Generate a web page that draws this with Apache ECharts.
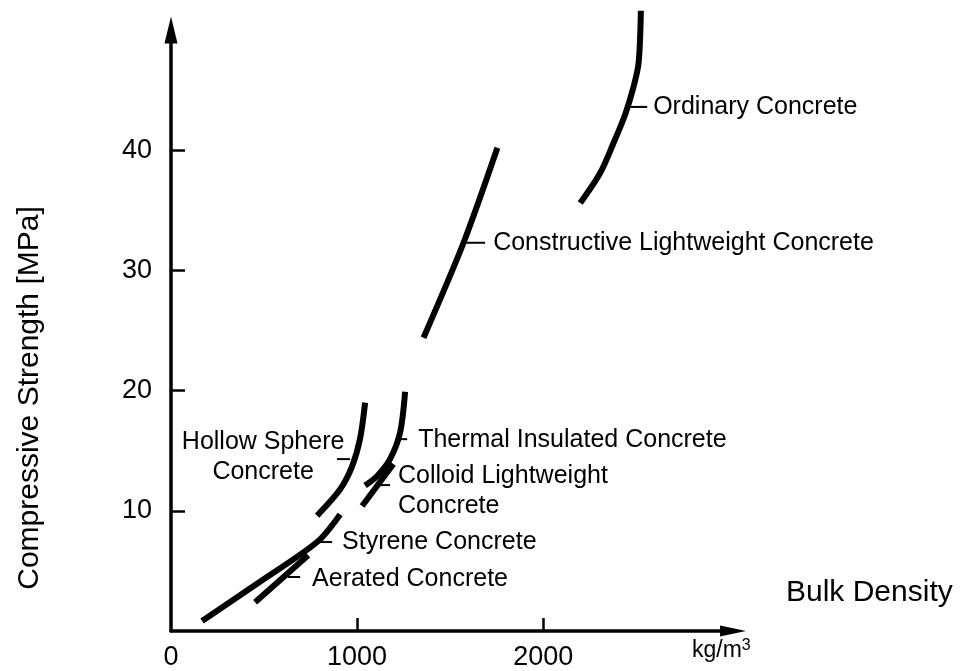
<!DOCTYPE html>
<html>
<head>
<meta charset="utf-8">
<script src="https://cdn.jsdelivr.net/npm/echarts@6/dist/echarts.min.js"></script>
<style>html,body{margin:0;padding:0;background:#fff;}#c{width:964px;height:671px;}</style>
</head>
<body>
<div id="c"></div>
<script>
// ---- data (bulk density kg/m3, compressive strength MPa) ----
const ordinaryDensity = [2199, 2306, 2378, 2441, 2486, 2513, 2525];
const ordinaryStrength = [35.6, 38.1, 40.6, 43.0, 45.3, 47.3, 51.6];
const constructiveDensity = [1357, 1572, 1754];
const constructiveStrength = [24.4, 32.3, 40.2];
const hollowDensity = [785, 909, 973, 1016, 1043];
const hollowStrength = [9.6, 11.8, 13.7, 16.0, 19.0];
const thermalDensity = [1043, 1108, 1177, 1231, 1258];
const thermalStrength = [12.1, 12.9, 14.3, 16.5, 19.9];
const colloidDensity = [1027, 1195];
const colloidStrength = [10.4, 13.9];
const styreneDensity = [167, 478, 785, 909];
const styreneStrength = [0.83, 4.1, 7.4, 9.7];
const aeratedDensity = [452, 737];
const aeratedStrength = [2.4, 6.3];

const xTickLabels = [0, 1000, 2000];
const xTicks = [1000, 2000];
const yTickLabels = [10, 20, 30, 40];

const seriesNames = ['Ordinary Concrete', 'Constructive Lightweight Concrete', 'Hollow Sphere Concrete',
  'Thermal Insulated Concrete', 'Colloid Lightweight Concrete', 'Styrene Concrete', 'Aerated Concrete'];
const seriesX = [ordinaryDensity, constructiveDensity, hollowDensity, thermalDensity, colloidDensity, styreneDensity, aeratedDensity];
const seriesY = [ordinaryStrength, constructiveStrength, hollowStrength, thermalStrength, colloidStrength, styreneStrength, aeratedStrength];

// annotation layout (leader line from x1 to x2 at y, text anchor)
const annotations = [
  { text: 'Ordinary Concrete', x1: 2468, x2: 2559, y: 43.6, tx: 2591, ty: 43.6, align: 'left' },
  { text: 'Constructive Lightweight Concrete', x1: 1570, x2: 1688, y: 32.3, tx: 1731, ty: 32.3, align: 'left' },
  { text: 'Hollow Sphere\nConcrete', x1: 892, x2: 962, y: 14.3, tx: 495, ty: 14.45, align: 'center' },
  { text: 'Thermal Insulated Concrete', x1: 1204, x2: 1269, y: 15.96, tx: 1328, ty: 15.85, align: 'left' },
  { text: 'Colloid Lightweight\nConcrete', x1: 1124, x2: 1177, y: 12.14, tx: 1220, ty: 11.64, align: 'left' },
  { text: 'Styrene Concrete', x1: 785, x2: 866, y: 7.4, tx: 919, ty: 7.4, align: 'left' },
  { text: 'Aerated Concrete', x1: 629, x2: 694, y: 4.49, tx: 758, ty: 4.35, align: 'left' }
];

const FONT = "'Liberation Sans', Arial, Helvetica, sans-serif";
const chart = echarts.init(document.getElementById('c'), null, { renderer: 'canvas' });

const series = seriesNames.map((n, i) => ({
  name: n,
  type: 'line',
  data: seriesX[i].map((x, k) => [x, seriesY[i][k]]),
  showSymbol: false,
  smooth: 0.3,
  clip: false,
  silent: true,
  lineStyle: { color: '#000', width: 6, cap: 'butt' }
}));
annotations.forEach(a => {
  series.push({
    type: 'line', data: [[a.x1, a.y], [a.x2, a.y]], showSymbol: false, silent: true, clip: false,
    lineStyle: { color: '#000', width: 2 }
  });
});

chart.setOption({
  animation: false,
  backgroundColor: '#fff',
  grid: { left: 171, right: 231, top: 30, bottom: 39, containLabel: false },
  xAxis: {
    type: 'value', min: 0, max: 3020,
    splitLine: { show: false },
    axisLine: { show: true, onZero: false, symbol: ['none', 'triangle'], symbolSize: [11, 26],
      lineStyle: { color: '#000', width: 3.5 } },
    axisTick: { show: true, inside: true, length: 13, customValues: xTicks, lineStyle: { color: '#000', width: 2.5 } },
    axisLabel: { show: true, customValues: xTickLabels, margin: 13, color: '#000', fontSize: 27, fontFamily: FONT,
      formatter: v => String(v) }
  },
  yAxis: {
    type: 'value', min: 0, max: 50,
    splitLine: { show: false },
    axisLine: { show: true, onZero: false, symbol: ['none', 'triangle'], symbolSize: [13, 27],
      lineStyle: { color: '#000', width: 3.5 } },
    axisTick: { show: true, inside: true, length: 14, customValues: yTickLabels, lineStyle: { color: '#000', width: 2.5 } },
    axisLabel: { show: true, customValues: yTickLabels, margin: 19, color: '#000', fontSize: 27, fontFamily: FONT,
      formatter: v => String(v) }
  },
  series: series
});

const graphics = annotations.map(a => {
  const p = chart.convertToPixel({ gridIndex: 0 }, [a.tx, a.ty]);
  return {
    type: 'text', x: p[0], y: p[1], silent: true,
    style: { text: a.text, fill: '#000', font: '25px ' + FONT, align: a.align, verticalAlign: 'middle', lineHeight: 30 }
  };
});
graphics.push({
  type: 'text', x: 30, y: 398, rotation: Math.PI / 2, silent: true,
  style: { text: 'Compressive Strength [MPa]', fill: '#000', font: '30px ' + FONT, align: 'center', verticalAlign: 'middle' }
});
graphics.push({
  type: 'text', x: 786, y: 593, silent: true,
  style: { text: 'Bulk Density', fill: '#000', font: '30px ' + FONT, align: 'left', verticalAlign: 'middle' }
});
graphics.push({
  type: 'text', x: 692, y: 651, silent: true,
  style: {
    text: '{a|kg/m}{b|3}', align: 'left', verticalAlign: 'middle',
    rich: {
      a: { fontSize: 23, fontFamily: FONT, fill: '#000' },
      b: { fontSize: 16, fontFamily: FONT, fill: '#000', verticalAlign: 'top', padding: [0, 0, 10, 0] }
    }
  }
});
chart.setOption({ graphic: graphics });
</script>
</body>
</html>
